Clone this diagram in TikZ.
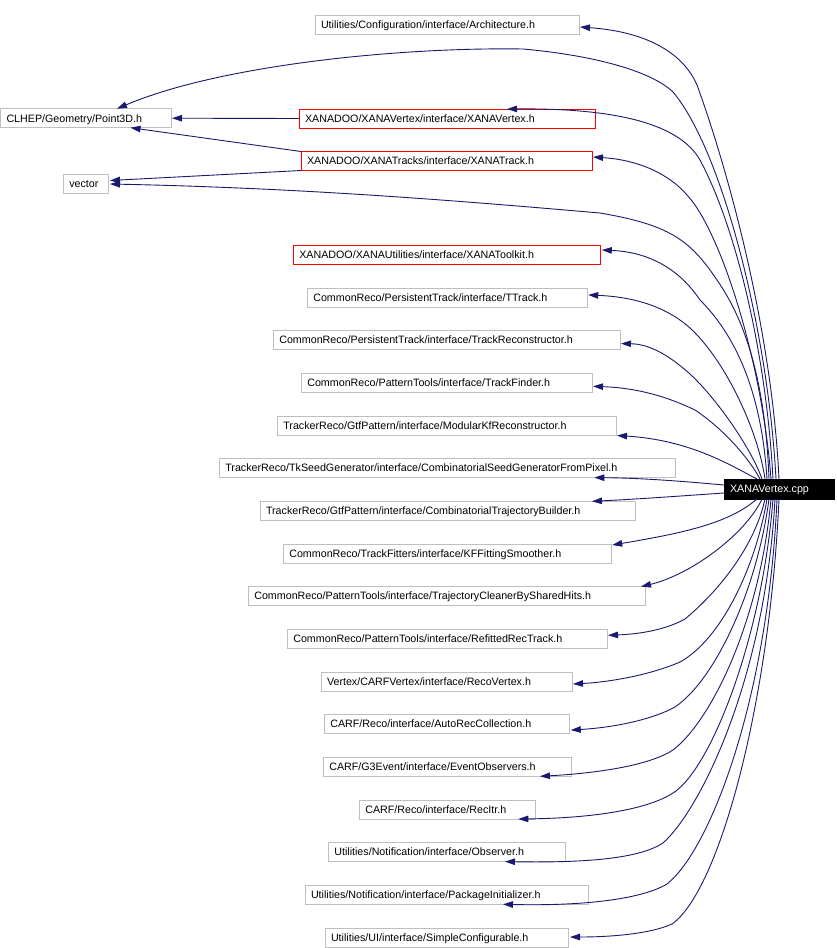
\documentclass[tikz,border=0pt]{standalone}
\usepackage{fontspec}
\setmainfont{Liberation Sans}
\usetikzlibrary{arrows.meta,calc}
\definecolor{edgeblue}{RGB}{25,25,112}
\definecolor{boxgray}{RGB}{191,191,191}
\definecolor{boxred}{RGB}{255,0,0}
\newcommand\hdrfont{\fontsize{10.7pt}{12pt}\selectfont\hyphenpenalty=10000\exhyphenpenalty=10000}
\begin{document}
\begin{tikzpicture}[x=1pt,y=-1pt,
  hbox/.style={draw=boxgray, line width=1pt, anchor=north west, outer sep=0pt,
    inner xsep=6pt, inner ysep=0pt, minimum height=19pt, align=left,
    font=\hdrfont, text depth=0pt},
  redbox/.style={hbox, draw=boxred},
  dep/.style={draw=edgeblue, line width=0.9pt, -{Triangle[length=10pt,width=6.5pt]}},
]
\fill[white] (0,0) rectangle (837,948);
\useasboundingbox (0,0) rectangle (837,948);

% header nodes
\node[hbox, text width=252pt] (arch) at (315,15) {Utilities/Configuration/interface/Architecture.h};
\node[hbox, text width=158.5pt] (p3d) at (0.5,108.7) {CLHEP/Geometry/Point3D.h};
\node[redbox, text width=284pt] (xvh) at (299,109) {XANADOO/XANAVertex/interface/XANAVertex.h};
\node[redbox, text width=279pt] (xtr) at (301,151.5) {XANADOO/XANATracks/interface/XANATrack.h};
\node[hbox, text width=33.4pt] (vec) at (63.3,174.3) {vector};
\node[redbox, text width=295pt] (tk) at (293.3,245.3) {XANADOO/XANAUtilities/interface/XANAToolkit.h};
\node[hbox, text width=268.4pt] (ttr) at (307.3,288) {CommonReco/PersistentTrack/interface/TTrack.h};
\node[hbox, text width=335pt] (trr) at (273.3,330.6) {CommonReco/PersistentTrack/interface/TrackReconstructor.h};
\node[hbox, text width=279pt] (tf) at (301.3,373.3) {CommonReco/PatternTools/interface/TrackFinder.h};
\node[hbox, text width=327pt] (mkf) at (277.3,416) {TrackerReco/GtfPattern/interface/ModularKfReconstructor.h};
\node[hbox, text width=444pt] (csg) at (219.3,458.6) {TrackerReco/TkSeedGenerator/interface/CombinatorialSeedGeneratorFromPixel.h};
\node[hbox, text width=363.7pt] (ctb) at (260,501.3) {TrackerReco/GtfPattern/interface/CombinatorialTrajectoryBuilder.h};
\node[hbox, text width=316.4pt] (kfs) at (283.3,544) {CommonReco/TrackFitters/interface/KFFittingSmoother.h};
\node[hbox, text width=385.4pt] (tcb) at (248.3,586.6) {CommonReco/PatternTools/interface/TrajectoryCleanerBySharedHits.h};
\node[hbox, text width=308pt] (rrt) at (287.3,629.3) {CommonReco/PatternTools/interface/RefittedRecTrack.h};
\node[hbox, text width=239.3pt] (rv) at (321,672) {Vertex/CARFVertex/interface/RecoVertex.h};
\node[hbox, text width=233pt] (arc) at (324.3,714.6) {CARF/Reco/interface/AutoRecCollection.h};
\node[hbox, text width=236.4pt] (eo) at (323.3,757.3) {CARF/G3Event/interface/EventObservers.h};
\node[hbox, text width=164pt] (ri) at (359.3,800) {CARF/Reco/interface/RecItr.h};
\node[hbox, text width=225.4pt] (obs) at (328.3,842.6) {Utilities/Notification/interface/Observer.h};
\node[hbox, text width=271.3pt] (pki) at (305,885.3) {Utilities/Notification/interface/PackageInitializer.h};
\node[hbox, text width=231.3pt] (sc) at (325,928) {Utilities/UI/interface/SimpleConfigurable.h};
\node[hbox, draw=black, fill=black, text=white, minimum height=20pt, text width=98pt] (cpp) at (724,479) {XANAVertex.cpp};

% edges above
\draw[dep] ($(cpp.north west)+(55,0)$) .. controls (772,330) and (728,170) .. (697,85)
  .. controls (684,55) and (650,32) .. ($(arch.north east)+(1,12)$);
\draw[dep] ($(cpp.north west)+(52,0)$) .. controls (768,330) and (722,150) .. (673,92)
  .. controls (650,70) and (590,55) .. (523,49)
  .. controls (400,47) and (220,65) .. ($(p3d.north west)+(116.5,0)$);
\draw[dep] ($(cpp.north west)+(49,0)$) .. controls (766,350) and (735,225) .. (700,160)
  .. controls (680,125) and (620,108) .. ($(xvh.north west)+(208,0)$);
\draw[dep] ($(cpp.north west)+(47,0)$) .. controls (762,360) and (720,230) .. (687,195)
  .. controls (670,175) and (640,160) .. ($(xtr.north east)+(1,5.5)$);
\draw[dep] ($(cpp.north west)+(45,0)$) .. controls (766,400) and (752,330) .. (717,280)
  .. controls (690,240) and (670,225) .. (600,213)
  .. controls (450,200) and (300,188) .. ($(vec.north east)+(1.3,9.7)$);
\draw[dep] ($(cpp.north west)+(43,0)$) .. controls (762,400) and (740,340) .. (700,300)
  .. controls (680,270) and (650,252) .. ($(tk.north east)+(1.5,4.7)$);
\draw[dep] ($(cpp.north west)+(41,0)$) .. controls (758,430) and (725,360) .. (690,328)
  .. controls (670,310) and (640,297) .. ($(ttr.north east)+(0.5,7)$);
\draw[dep] ($(cpp.north west)+(38,0)$) .. controls (752,450) and (718,400) .. (690,374)
  .. controls (670,356) and (650,344) .. ($(trr.north east)+(0.7,13)$);
\draw[dep] ($(cpp.north west)+(36,0)$) .. controls (750,460) and (725,430) .. (695,410)
  .. controls (670,398) and (640,388) .. ($(tf.north east)+(0.7,13)$);
\draw[dep] ($(cpp.north west)+(33,0)$) .. controls (730,465) and (690,440) .. ($(mkf.south east)+(0.7,0.5)$);
\draw[dep] ($(cpp.north west)+(0,6)$) .. controls (680,481) and (640,478) .. ($(csg.south east)+(-81,0)$);
\draw[dep] ($(cpp.north west)+(0,14)$) .. controls (680,496) and (640,499) .. ($(ctb.north east)+(-43.7,0)$);

% edges below
\draw[dep] ($(cpp.south west)+(33,0)$) .. controls (730,522) and (690,532) .. ($(kfs.north east)+(0.5,1)$);
\draw[dep] ($(cpp.south west)+(38,0)$) .. controls (745,535) and (690,575) .. ($(tcb.north east)+(-4.7,0)$);
\draw[dep] ($(cpp.south west)+(41,0)$) .. controls (755,545) and (720,590) .. (685,619)
  .. controls (665,630) and (640,634) .. ($(rrt.north east)+(0.7,6)$);
\draw[dep] ($(cpp.south west)+(43,0)$) .. controls (755,570) and (720,640) .. (680,662)
  .. controls (650,675) and (610,682) .. ($(rv.north east)+(0.7,12)$);
\draw[dep] ($(cpp.south west)+(45,0)$) .. controls (757,590) and (715,680) .. (675,707)
  .. controls (655,718) and (620,727) .. ($(arc.north east)+(1.5,15.5)$);
\draw[dep] ($(cpp.south west)+(47,0)$) .. controls (760,620) and (712,720) .. (673,750)
  .. controls (650,765) and (600,773) .. ($(eo.south east)+(-31.7,0)$);
\draw[dep] ($(cpp.south west)+(49,0)$) .. controls (762,640) and (710,770) .. (673,793)
  .. controls (650,808) and (600,818) .. ($(ri.south east)+(-17,0)$);
\draw[dep] ($(cpp.south west)+(51,0)$) .. controls (765,680) and (700,810) .. (663,843)
  .. controls (640,858) and (590,863) .. ($(obs.south east)+(-60.7,0)$);
\draw[dep] ($(cpp.south west)+(53,0)$) .. controls (768,700) and (710,850) .. (667,884)
  .. controls (640,900) and (580,906) .. ($(pki.south east)+(-85.3,0)$);
\draw[dep] ($(cpp.south west)+(55,0)$) .. controls (770,700) and (720,890) .. (672,924)
  .. controls (650,934) and (610,937) .. ($(sc.north east)+(1.7,9)$);

% edges between headers
\draw[dep] (xvh.west) -- ($(p3d.east)+(1,0)$);
\draw[dep] (xtr.north west) -- ($(p3d.south west)+(130,0)$);
\draw[dep] (xtr.south west) -- ($(vec.north east)+(1.3,6.2)$);
\end{tikzpicture}
\end{document}
